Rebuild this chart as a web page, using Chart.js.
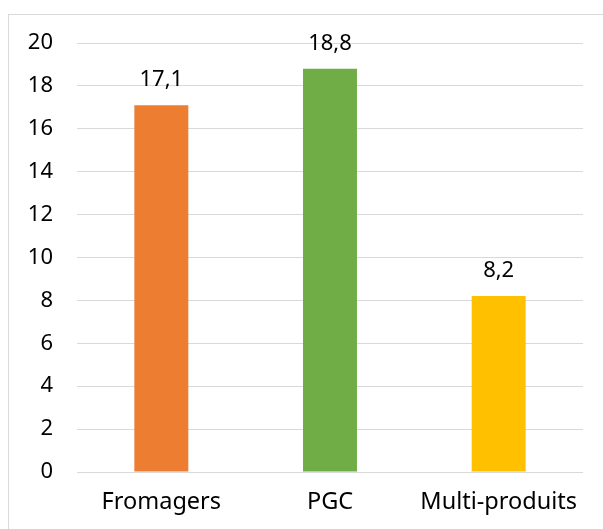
<!DOCTYPE html>
<html>
<head>
<meta charset="utf-8">
<script src="https://cdn.jsdelivr.net/npm/chart.js@4/dist/chart.umd.min.js"></script>
<style>
  html, body { margin: 0; padding: 0; background: #fff; }
  #wrap { position: relative; width: 603px; height: 529px; }
</style>
</head>
<body>
<div id="wrap"><canvas id="c" width="603" height="529"></canvas></div>
<script>
const categories = ["Fromagers", "PGC", "Multi-produits"];
const values = [17.1, 18.8, 8.2];
const valueLabels = ["17,1", "18,8", "8,2"];
const barColors = ["#ED7D31", "#70AD47", "#FFC000"];
const yTicks = [0, 2, 4, 6, 8, 10, 12, 14, 16, 18, 20];

const FONT = "'Noto Sans', sans-serif";

const framePlugin = {
  id: 'frame',
  beforeDraw(chart) {
    const ctx = chart.ctx;
    ctx.save();
    ctx.fillStyle = '#fff';
    ctx.fillRect(0, 0, chart.width, chart.height);
    ctx.strokeStyle = '#d9d9d9';
    ctx.lineWidth = 1;
    ctx.strokeRect(8.5, 14.5, 800, 800);
    ctx.restore();
  }
};

const labelPlugin = {
  id: 'valueLabels',
  afterDatasetsDraw(chart) {
    const ctx = chart.ctx;
    const meta = chart.getDatasetMeta(0);
    ctx.save();
    ctx.font = "22px " + FONT;
    ctx.fillStyle = '#000';
    ctx.textAlign = 'center';
    ctx.textBaseline = 'alphabetic';
    meta.data.forEach((bar, i) => {
      ctx.fillText(valueLabels[i], bar.x, bar.y - 19);
    });
    ctx.restore();
  }
};

new Chart(document.getElementById('c'), {
  type: 'bar',
  data: {
    labels: categories,
    datasets: [{
      data: values,
      backgroundColor: barColors,
      borderWidth: 0,
      barPercentage: 0.64,
      categoryPercentage: 0.5
    }]
  },
  options: {
    responsive: false,
    animation: false,
    devicePixelRatio: 1,
    layout: { padding: { top: 43, right: 20, bottom: 10, left: 0 } },
    plugins: { legend: { display: false }, tooltip: { enabled: false } },
    scales: {
      x: {
        grid: { display: false, drawTicks: false },
        border: { display: false },
        ticks: { color: '#000', font: { family: FONT, size: 23.5 }, padding: 16, maxRotation: 0 },
        afterFit(s) { s.height = 47; }
      },
      y: {
        min: 0, max: 20,
        afterBuildTicks(s) { s.ticks = yTicks.map(v => ({ value: v })); },
        grid: { color: '#d9d9d9', lineWidth: 1, drawTicks: false },
        border: { display: false },
        ticks: { color: '#000', font: { family: FONT, size: 22 }, padding: 24 },
        afterFit(s) { s.width = 77; }
      }
    }
  },
  plugins: [framePlugin, labelPlugin]
});
</script>
</body>
</html>
